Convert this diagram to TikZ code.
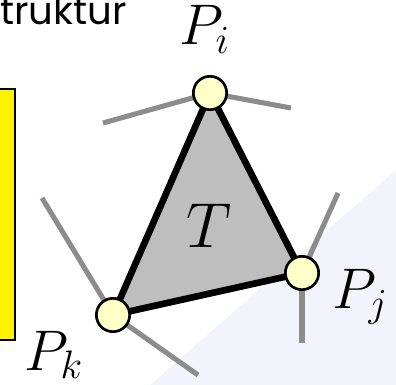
\documentclass[tikz,border=0pt]{standalone}
\usepackage{fontspec}
\setsansfont{Poppins}
\usepackage{tikz}
\usetikzlibrary{positioning}
\definecolor{vertfill}{HTML}{FFFFC8}
\definecolor{trifill}{HTML}{BEBEBE}
\definecolor{spoke}{HTML}{8C8C8C}
\definecolor{tint}{HTML}{F3F4FB}

\tikzset{
  vertex/.style={circle,draw,line width=2pt,fill=vertfill,minimum size=25pt,inner sep=0pt},
  spokeline/.style={line width=3.8pt,draw=spoke},
  plabel/.style={anchor=base west,inner sep=0pt,font=\huge,scale=2.07}
}

\begin{document}
\begin{tikzpicture}[x=0.75pt,y=-0.75pt]
  \useasboundingbox (0,0) rectangle (396,385);
  % faint slide background
  \fill[tint] (150,385) -- (396,170) -- (396,385) -- cycle;
  \draw[line width=1.5pt,fill=yellow] (-10,89) rectangle (15,340);
  \node[anchor=base west,inner sep=0pt,font=\sffamily\fontsize{29}{32}\selectfont] (title) at (0,25) {truktur};

  \coordinate (pi-l) at (103,123);
  \coordinate (pi-r) at (291,108);
  \coordinate (pj-u) at (338,193);
  \coordinate (pj-d) at (302,343);
  \coordinate (pk-u) at (42,198);
  \coordinate (pk-d) at (198,375);
  \coordinate (ci) at (210,93);
  \coordinate (cj) at (302,273);
  \coordinate (ck) at (113,315);

  % neighbouring edges
  \draw[spokeline] (ci) -- (pi-l);
  \draw[spokeline] (ci) -- (pi-r);
  \draw[spokeline] (cj) -- (pj-u);
  \draw[spokeline] (cj) -- (pj-d);
  \draw[spokeline] (ck) -- (pk-u);
  \draw[spokeline] (ck) -- (pk-d);

  % triangle T
  \draw[line width=5pt,fill=trifill,line join=round] (ci) -- (cj) -- (ck) -- cycle;
  \node[vertex] (pi) at (ci) {};
  \node[vertex] (pj) at (cj) {};
  \node[vertex] (pk) at (ck) {};

  \node[anchor=base west,inner sep=0pt,font=\huge,scale=2.3] (t) at (186,247) {$T$};
  \node[plabel] (li) at (179,45) {$P_i$};
  \node[plabel] (lj) at (332,308) {$P_j$};
  \node[plabel] (lk) at (24,370) {$P_k$};
\end{tikzpicture}
\end{document}
